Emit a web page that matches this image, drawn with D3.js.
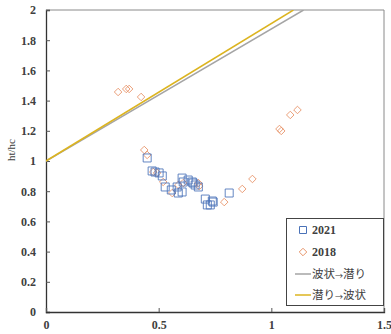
<!DOCTYPE html>
<html>
<head>
<meta charset="utf-8">
<script src="https://cdn.jsdelivr.net/npm/d3@7"></script>
<style>
  body { margin: 0; background: #fff; }
  svg { display: block; }
</style>
</head>
<body>
<svg id="chart" width="391" height="334"></svg>
<script>
// data
const pts2021 = [
  [0.449, 1.02], [0.471, 0.934], [0.484, 0.927], [0.502, 0.921], [0.516, 0.901],
  [0.529, 0.828], [0.556, 0.808], [0.582, 0.828], [0.604, 0.887], [0.609, 0.861],
  [0.604, 0.795], [0.587, 0.788], [0.631, 0.874], [0.649, 0.861], [0.653, 0.854],
  [0.662, 0.841], [0.676, 0.828], [0.707, 0.748], [0.716, 0.709], [0.729, 0.709],
  [0.738, 0.735], [0.742, 0.728], [0.813, 0.788]
];
const pts2018 = [
  [0.32, 1.457], [0.356, 1.477], [0.369, 1.477], [0.422, 1.424], [0.436, 1.073],
  [0.449, 1.04], [0.476, 0.927], [0.493, 0.921], [0.52, 0.861], [0.56, 0.788],
  [0.587, 0.841], [0.609, 0.854], [0.676, 0.854], [0.68, 0.834], [0.791, 0.728],
  [0.871, 0.815], [0.916, 0.881], [1.036, 1.212], [1.044, 1.199], [1.084, 1.305],
  [1.116, 1.338]
];
const waveToDive = [[0, 1], [1.143, 2]];   // 波状→潜り
const diveToWave = [[0, 1], [1.098, 2]];   // 潜り→波状
const xTicks = [0, 0.5, 1, 1.5];
const yTicks = [0, 0.2, 0.4, 0.6, 0.8, 1, 1.2, 1.4, 1.6, 1.8, 2];
const legendItems = [
  { label: '2021', kind: 'square' },
  { label: '2018', kind: 'diamond' },
  { label: '波状→潜り', kind: 'gray' },
  { label: '潜り→波状', kind: 'yellow' }
];

const svg = d3.select('#chart');
const plotL = 46, plotR = 384, plotT = 10, plotB = 312;
const x = d3.scaleLinear().domain([0, 1.5]).range([plotL, plotR]);
const y = d3.scaleLinear().domain([0, 2]).range([plotB, plotT]);

const blue = '#4a72b8';
const orange = '#e8956a';
const gray = '#a5a5a5';
const gold = '#dcb420';
const labelFont = '"Liberation Serif", "DejaVu Serif", serif';

svg.append('defs').append('clipPath').attr('id', 'plot')
  .append('rect').attr('x', plotL).attr('y', plotT)
  .attr('width', plotR - plotL).attr('height', plotB - plotT);

// frame (top / right)
svg.append('path')
  .attr('d', `M${plotL},${plotT}H${plotR}V${plotB}`)
  .attr('fill', 'none').attr('stroke', '#8a8a8a').attr('stroke-width', 1);

// axes
const yAxis = svg.append('g')
  .attr('transform', `translate(${plotL},0)`)
  .call(d3.axisLeft(y).tickValues(yTicks).tickSize(-4).tickPadding(10)
    .tickFormat(d => String(+d.toFixed(1))));
const xAxis = svg.append('g')
  .attr('transform', `translate(0,${plotB})`)
  .call(d3.axisBottom(x).tickValues(xTicks).tickSize(-4).tickPadding(8)
    .tickFormat(d => String(d)));
[xAxis, yAxis].forEach(a => {
  a.select('.domain').attr('stroke', '#333').attr('stroke-width', 1.3);
  a.selectAll('.tick line').attr('stroke', '#555');
  a.selectAll('.tick text')
    .attr('font-family', labelFont).attr('font-weight', 'bold')
    .attr('font-size', 12).attr('fill', '#404040');
});

svg.append('text')
  .attr('transform', `translate(15,150) rotate(-90)`)
  .attr('text-anchor', 'middle')
  .attr('font-family', labelFont).attr('font-size', 11)
  .attr('fill', '#404040')
  .text('ht/hc');

// lines
const line = d3.line().x(d => x(d[0])).y(d => y(d[1]));
const lines = svg.append('g').attr('clip-path', 'url(#plot)');
lines.append('path').datum(waveToDive).attr('d', line)
  .attr('fill', 'none').attr('stroke', gray).attr('stroke-width', 1.5);
lines.append('path').datum(diveToWave).attr('d', line)
  .attr('fill', 'none').attr('stroke', gold).attr('stroke-width', 1.5);

// markers
const sqSym = d3.symbol().type(d3.symbolSquare).size(64);
const diaSym = d3.symbol().type(d3.symbolDiamond2).size(36);

svg.append('g').selectAll('path').data(pts2018).join('path')
  .attr('d', diaSym)
  .attr('transform', d => `translate(${x(d[0])},${y(d[1])})`)
  .attr('fill', 'none').attr('stroke', orange).attr('stroke-width', 1)
  .attr('opacity', 0.9);

svg.append('g').selectAll('path').data(pts2021).join('path')
  .attr('d', sqSym)
  .attr('transform', d => `translate(${x(d[0])},${y(d[1])})`)
  .attr('fill', 'none').attr('stroke', blue).attr('stroke-width', 1)
  .attr('opacity', 0.85);

// legend
const lg = svg.append('g');
lg.append('rect')
  .attr('x', 286.5).attr('y', 218.5).attr('width', 97).attr('height', 87)
  .attr('fill', '#fff').attr('stroke', '#444').attr('stroke-width', 1);

const rowY = [230, 252, 274, 295];
legendItems.forEach((it, i) => {
  const cy = rowY[i];
  if (it.kind === 'square') {
    lg.append('path').attr('d', d3.symbol().type(d3.symbolSquare).size(49))
      .attr('transform', `translate(303,${cy})`)
      .attr('fill', 'none').attr('stroke', blue).attr('stroke-width', 1);
  } else if (it.kind === 'diamond') {
    lg.append('path').attr('d', diaSym)
      .attr('transform', `translate(303,${cy})`)
      .attr('fill', 'none').attr('stroke', orange).attr('stroke-width', 1);
  } else {
    lg.append('line')
      .attr('x1', 295).attr('x2', 311).attr('y1', cy).attr('y2', cy)
      .attr('stroke', it.kind === 'gray' ? gray : gold).attr('stroke-width', 1.5);
  }
  const isNum = it.kind === 'square' || it.kind === 'diamond';
  const t = lg.append('text')
    .attr('x', 312).attr('y', cy + 4)
    .attr('fill', '#404040');
  if (isNum) {
    t.attr('font-family', labelFont).attr('font-weight', 'bold')
      .attr('font-size', 12).text(it.label);
  } else {
    const parts = it.label.split('→');
    t.attr('font-family', '"Noto Sans CJK JP", sans-serif').attr('font-size', 11.5);
    t.append('tspan').text(parts[0]);
    t.append('tspan').attr('font-size', 8).attr('dy', 1).text('→');
    t.append('tspan').attr('dy', -1).text(parts[1]);
  }
});
</script>
</body>
</html>
